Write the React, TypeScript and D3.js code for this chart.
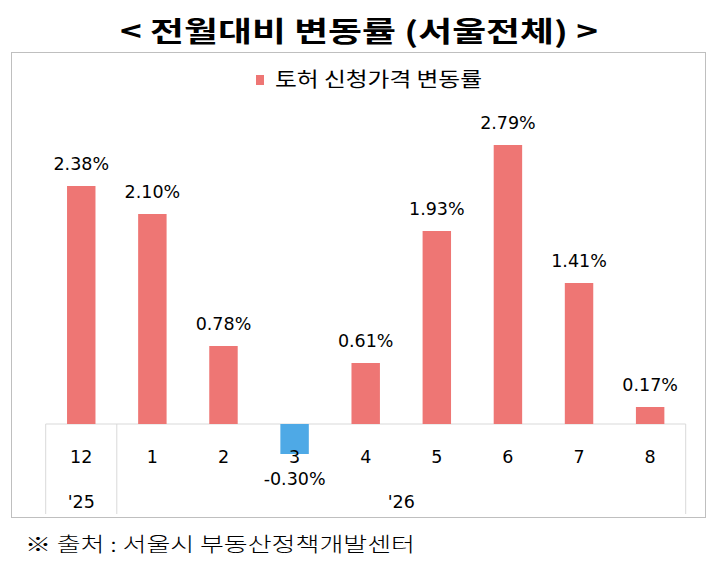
import React from "react";
import * as d3 from "d3";

const categories = ["12", "1", "2", "3", "4", "5", "6", "7", "8"];
const values = [2.38, 2.1, 0.78, -0.3, 0.61, 1.93, 2.79, 1.41, 0.17];
const yearGroups = [
  { label: "'25", from: 0, to: 0 },
  { label: "'26", from: 1, to: 8 },
];
const title = "< 전월대비 변동률 (서울전체) >";
const legendLabel = "토허 신청가격 변동률";
const sourceNote = "※ 출처 : 서울시 부동산정책개발센터";

const W = 719;
const H = 564;
const FONT = "'Noto Sans CJK KR', 'Noto Sans', sans-serif";
const NUMFONT = "'DejaVu Sans', 'Noto Sans', sans-serif";
const POS = "#EE7674";
const NEG = "#4EA9E6";
const GRID = "#D9D9D9";

export default function App() {
  const axisY = 424;
  const left = 45.7;
  const right = 685.7;
  const x = d3.scaleBand<string>().domain(categories).range([left, right]).paddingInner(0.6).paddingOuter(0.3);
  const band = (right - left) / categories.length;
  const y = d3.scaleLinear().domain([0, 1]).range([axisY, axisY - 100]);
  const fmt = (v: number) => (v < 0 ? "-" : "") + d3.format(".2f")(Math.abs(v)) + "%";
  const catCenter = (i: number) => left + band * (i + 0.5);

  return (
    <svg width={W} height={H} style={{ position: "absolute", left: 0, top: 0, background: "#fff" }}>
      <rect x={0} y={0} width={W} height={H} fill="#fff" />
      <text x={359} y={42} textAnchor="middle" fontFamily={FONT} fontWeight="bold" fontSize={28} fill="#000" textLength={478} lengthAdjust="spacingAndGlyphs">
        {title}
      </text>
      <rect x={11.5} y={52.5} width={694} height={465} fill="#fff" stroke="#BFBFBF" strokeWidth={1} />
      {/* legend */}
      <rect x={256} y={75} width={8} height={10} fill={POS} />
      <text x={275} y={87} fontFamily={FONT} fontSize={20} fill="#000" textLength={207} lengthAdjust="spacingAndGlyphs">
        {legendLabel}
      </text>
      {/* axis box */}
      <line x1={left} x2={right} y1={axisY} y2={axisY} stroke={GRID} />
      {[left, left + band, right].map((lx, i) => (
        <line key={i} x1={lx} x2={lx} y1={axisY} y2={514} stroke={GRID} />
      ))}
      {/* bars */}
      {values.map((v, i) => {
        const cx = x(categories[i])!;
        const top = Math.min(y(v), y(0));
        const h = Math.abs(y(v) - y(0));
        return <rect key={i} x={cx} y={top} width={x.bandwidth()} height={h} fill={v >= 0 ? POS : NEG} />;
      })}
      {/* category labels */}
      {categories.map((c, i) => (
        <text key={c} x={catCenter(i)} y={463} textAnchor="middle" fontFamily={NUMFONT} fontSize={17.5} fill="#000">
          {c}
        </text>
      ))}
      {/* value labels */}
      {values.map((v, i) => (
        <text
          key={i}
          x={catCenter(i)}
          y={v >= 0 ? y(v) - 16 : 485}
          textAnchor="middle"
          fontFamily={NUMFONT}
          fontSize={17.5}
          fill="#000"
        >
          {fmt(v)}
        </text>
      ))}
      {/* year groups */}
      {yearGroups.map((g) => (
        <text
          key={g.label}
          x={(left + band * g.from + left + band * (g.to + 1)) / 2}
          y={508}
          textAnchor="middle"
          fontFamily={NUMFONT}
          fontSize={17.5}
          fill="#000"
        >
          {g.label}
        </text>
      ))}
      <text x={25} y={552} fontFamily={FONT} fontWeight={300} fontSize={20} fill="#000" textLength={390} lengthAdjust="spacingAndGlyphs">
        {sourceNote}
      </text>
    </svg>
  );
}
